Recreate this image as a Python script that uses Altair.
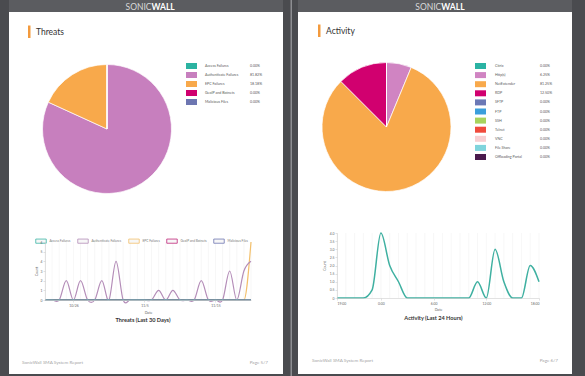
import altair as alt
import pandas as pd

FONT = "Lato"

# ---------------- data ----------------
threat_cats = ["Access Failures", "Authenticate Failures", "EPC Failures",
               "GeoIP and Botnets", "Malicious Files"]
threat_pct = [0.00, 81.82, 18.18, 0.00, 0.00]
threat_pct_labels = ["0.00%", "81.82%", "18.18%", "0.00%", "0.00%"]
threat_colors = ["#2bb3a1", "#c77fbe", "#f8a94b", "#d0006f", "#6d76b1"]
threat_line_colors = ["#3bb5a6", "#b48db8", "#f3c06c", "#c0267a", "#6d76b1"]

activity_cats = ["Citrix", "Http(s)", "NetExtender", "RDP", "SFTP", "FTP", "SSH",
                 "Telnet", "VNC", "File Share", "Offloading Portal"]
activity_pct = [0.00, 6.25, 81.25, 12.50, 0.00, 0.00, 0.00, 0.00, 0.00, 0.00, 0.00]
activity_pct_labels = ["0.00%", "6.25%", "81.25%", "12.50%", "0.00%", "0.00%",
                       "0.00%", "0.00%", "0.00%", "0.00%", "0.00%"]
activity_colors = ["#2bb3a3", "#d084c2", "#f8a94b", "#d1006f", "#6b78b6", "#3b9fdc",
                   "#a8d35c", "#f04a3c", "#f8cfd2", "#7fd4dc", "#4a1a4c"]

threat_days = list(range(30))
access_counts = [0, 0, 0, 0, 0, 0, 0, 0, 0, 0, 0, 0, 0, 0, 0,
                 0, 0, 0, 0, 0, 0, 0, 0, 0, 0, 0, 0, 0, 0, 0]
auth_counts = [0, 0, 0, 2, 0, 2, 0, 0, 2, 0, 4, 0, 0, 0, 0,
               0, 1, 0, 1, 0, 0, 0, 2, 0, 0, 0, 3, 0, 3, 4]
epc_counts = [0, 0, 0, 0, 0, 0, 0, 0, 0, 0, 0, 0, 0, 0, 0,
              0, 0, 0, 0, 0, 0, 0, 0, 0, 0, 0, 0, 0, 0, 6]
geoip_counts = [0, 0, 0, 0, 0, 0, 0, 0, 0, 0, 0, 0, 0, 0, 0,
                0, 0, 0, 0, 0, 0, 0, 0, 0, 0, 0, 0, 0, 0, 0]
malicious_counts = [0, 0, 0, 0, 0, 0, 0, 0, 0, 0, 0, 0, 0, 0, 0,
                    0, 0, 0, 0, 0, 0, 0, 0, 0, 0, 0, 0, 0, 0, 0]
threat_tick_days = [4, 14, 24]
threat_tick_labels = ["10/26", "11/5", "11/15"]
threat_y_ticks = [0, 1, 2, 3, 4, 5, 6]

activity_hours = list(range(24))
activity_counts = [0, 0, 0, 0, 0.5, 4, 2, 1, 0, 0, 0, 0,
                   0, 0, 0, 0, 1, 0, 3, 1, 0, 0, 2, 1]
activity_tick_hours = [0, 5, 11, 17, 23]
activity_tick_labels = ["19:00", "0:00", "6:00", "12:00", "18:00"]
activity_y_ticks = [0, 0.5, 1.0, 1.5, 2.0, 2.5, 3.0, 3.5, 4.0]

# ---------------- frames ----------------
one = pd.DataFrame({"a": [0]})
threat_df = pd.DataFrame({"cat": threat_cats, "pct": threat_pct,
                          "lab": threat_pct_labels, "idx": list(range(len(threat_cats)))})
activity_df = pd.DataFrame({"cat": activity_cats, "pct": activity_pct,
                            "lab": activity_pct_labels, "idx": list(range(len(activity_cats)))})


def long_frame(series):
    rows = []
    for name, vals in series:
        for d, v in zip(threat_days, vals):
            rows.append({"cat": name, "day": d, "count": v})
    return pd.DataFrame(rows)


threat_main_df = long_frame([("Malicious Files", malicious_counts),
                             ("GeoIP and Botnets", geoip_counts),
                             ("Authenticate Failures", auth_counts),
                             ("Access Failures", access_counts)])
threat_epc_df = long_frame([("EPC Failures", epc_counts)])
threat_day_df = pd.DataFrame({"day": threat_days})

activity_line_df = pd.DataFrame({"hour": activity_hours, "count": activity_counts})


def label_expr(values, labels):
    expr = "''"
    for v, l in zip(reversed(values), reversed(labels)):
        expr = f"datum.value == {v} ? '{l}' : ({expr})"
    return expr


# ---------------- helpers ----------------
def rect(x, x2, y, y2, color):
    return alt.Chart(one).mark_rect(color=color).encode(
        x=alt.value(x), x2=alt.value(x2), y=alt.value(y), y2=alt.value(y2))


def text(s, x, y, size, color, align="left", weight="normal", font=FONT):
    return alt.Chart(one).mark_text(
        text=s, align=align, baseline="middle", fontSize=size, color=color,
        fontWeight=weight, font=font).encode(x=alt.value(x), y=alt.value(y))


layers = []

# pages
layers += [
    rect(9, 283, 0, 12, "#5b5c60"),
    rect(298, 572, 0, 12, "#5b5c60"),
    rect(9, 283, 12, 374, "#ffffff"),
    rect(298, 572, 12, 374, "#ffffff"),
    rect(290.5, 292, 0, 376, "#8d8e92"),
]

# logos
for cx in (151.5, 441.3):
    layers.append(text("SONIC", cx, 7, 8.5, "#d9d9d9", align="right"))
    layers.append(text("WALL", cx, 7, 8.5, "#ffffff", align="left", weight="bold"))

# section titles
layers += [
    rect(28, 30.5, 25.5, 38, "#f39a3d"),
    text("Threats", 36, 32, 8.5, "#333333"),
    rect(318, 320.5, 24.5, 37, "#f39a3d"),
    text("Activity", 326, 31, 8.5, "#333333"),
]


def pie(df, cats, colors, cx, cy):
    return alt.Chart(df).mark_arc(radius=64.5, stroke="#ffffff", strokeWidth=0.7).encode(
        theta=alt.Theta("pct:Q", stack=True),
        color=alt.Color("cat:N", scale=alt.Scale(domain=cats, range=colors), legend=None),
        order=alt.Order("idx:Q"),
        x=alt.value(cx), y=alt.value(cy))


def table_legend(df, cats, colors, x_sw, x_lab, x_pct, y0, y1):
    n = len(cats) - 1
    ys = alt.Scale(domain=[0, n], range=[y0, y1])
    sw = alt.Chart(df).mark_rule(strokeWidth=6, strokeCap="butt").encode(
        x=alt.value(x_sw), x2=alt.value(x_sw + 11),
        y=alt.Y("idx:Q", scale=ys, axis=None),
        color=alt.Color("cat:N", scale=alt.Scale(domain=cats, range=colors), legend=None))
    lab = alt.Chart(df).mark_text(align="left", baseline="middle", fontSize=3.6,
                                  color="#5a5a5a", font=FONT).encode(
        x=alt.value(x_lab), y=alt.Y("idx:Q", scale=ys, axis=None), text="cat:N")
    pct = alt.Chart(df).mark_text(align="left", baseline="middle", fontSize=3.6,
                                  color="#5a5a5a", font=FONT).encode(
        x=alt.value(x_pct), y=alt.Y("idx:Q", scale=ys, axis=None), text="lab:N")
    return [sw, lab, pct]


layers.append(pie(threat_df, threat_cats, threat_colors, 107, 129))
layers += table_legend(threat_df, threat_cats, threat_colors, 186, 205, 250, 66, 102)
layers.append(pie(activity_df, activity_cats, activity_colors, 386.5, 127))
layers += table_legend(activity_df, activity_cats, activity_colors, 475, 495, 540, 66, 157)

axis_common = dict(labelFontSize=3.4, labelColor="#666666", labelFont=FONT,
                   titleFontSize=3.6, titleColor="#666666", titleFont=FONT,
                   titleFontWeight="normal", domainColor="#cfcfcf", domainWidth=0.6,
                   tickColor="#cfcfcf", tickSize=2, tickWidth=0.6, labelPadding=1,
                   grid=False, zindex=2)

# ---- threats line chart ----
tx = alt.Scale(domain=[0, 29], range=[45, 251], nice=False, zero=False)
ty = alt.Scale(domain=[0, 6], range=[300, 242], nice=False)
tcol = alt.Scale(domain=threat_cats, range=threat_line_colors)
layers.append(alt.Chart(threat_day_df).mark_rule(color="#eeeeee", strokeWidth=0.5).encode(
    x=alt.X("day:Q", scale=tx, axis=None), y=alt.value(242), y2=alt.value(300)))
# EPC series (drawn underneath, monotone so it doesn't dip below zero)
layers.append(alt.Chart(threat_epc_df).mark_line(interpolate="monotone", strokeWidth=1.2).encode(
    x=alt.X("day:Q", scale=tx, axis=None),
    y=alt.Y("count:Q", scale=ty, axis=None),
    color=alt.Color("cat:N", scale=tcol, legend=None),
    order=alt.Order("day:Q")))
layers.append(alt.Chart(threat_main_df).mark_line(interpolate="cardinal", tension=0,
                                                  strokeWidth=1.2).encode(
    x=alt.X("day:Q", scale=tx,
            axis=alt.Axis(orient="bottom", offset=-76, values=threat_tick_days,
                          labelExpr=label_expr(threat_tick_days, threat_tick_labels),
                          title="Date", titlePadding=4, **axis_common)),
    y=alt.Y("count:Q", scale=ty,
            axis=alt.Axis(orient="left", offset=-45, values=threat_y_ticks, format="d",
                          title="Count", titlePadding=2, **axis_common)),
    color=alt.Color("cat:N", scale=tcol,
                    legend=alt.Legend(orient="none", legendX=35, legendY=235,
                                      direction="horizontal", title=None,
                                      symbolType="M-1,-0.4L1,-0.4L1,0.4L-1,0.4Z",
                                      symbolSize=110, symbolStrokeWidth=0.8,
                                      symbolFillColor="#f7f7f7",
                                      labelFontSize=3.2, labelColor="#777777",
                                      labelFont=FONT, labelOffset=2.5,
                                      columnPadding=5, padding=0)),
    order=alt.Order("day:Q")))
layers.append(text("Threats (Last 30 Days)", 143, 320, 5.6, "#333333", align="center", weight="bold"))

# ---- activity line chart ----
ax = alt.Scale(domain=[0, 23], range=[337, 539], nice=False, zero=False)
ay = alt.Scale(domain=[0, 4], range=[298, 233], nice=False)
layers.append(alt.Chart(pd.DataFrame({"hour": activity_hours})).mark_rule(
    color="#eeeeee", strokeWidth=0.5).encode(
    x=alt.X("hour:Q", scale=ax, axis=None), y=alt.value(233), y2=alt.value(298)))
layers.append(alt.Chart(activity_line_df).mark_line(
    interpolate="monotone", strokeWidth=1.5, color="#3fb0a1").encode(
    x=alt.X("hour:Q", scale=ax,
            axis=alt.Axis(orient="bottom", offset=-78, values=activity_tick_hours,
                          labelExpr=label_expr(activity_tick_hours, activity_tick_labels),
                          title="Date", titlePadding=3, **axis_common)),
    y=alt.Y("count:Q", scale=ay,
            axis=alt.Axis(orient="left", offset=-337, values=activity_y_ticks,
                          labelExpr="datum.value == 0 ? '0' : format(datum.value, '.1f')",
                          title="Count", titlePadding=3, **axis_common))))
layers.append(text("Activity (Last 24 Hours)", 433.5, 317.5, 5.6, "#333333", align="center", weight="bold"))

# footers
layers += [
    text("SonicWall SMA System Report", 22, 362.5, 4.6, "#a5a5a5"),
    text("Page 5/7", 268, 362.5, 4.6, "#a5a5a5", align="right"),
    text("SonicWall SMA System Report", 312, 360.5, 4.6, "#a5a5a5"),
    text("Page 6/7", 558, 360.5, 4.6, "#a5a5a5", align="right"),
]

chart = alt.layer(*layers).resolve_scale(
    x="independent", y="independent", color="independent", theta="independent"
).properties(
    width=585, height=376, padding=0,
    autosize=alt.AutoSizeParams(type="none"),
    background="#4a4b4f",
).configure_view(strokeWidth=0)

chart.save("out.html", embed_options={"renderer": "svg", "actions": False})
